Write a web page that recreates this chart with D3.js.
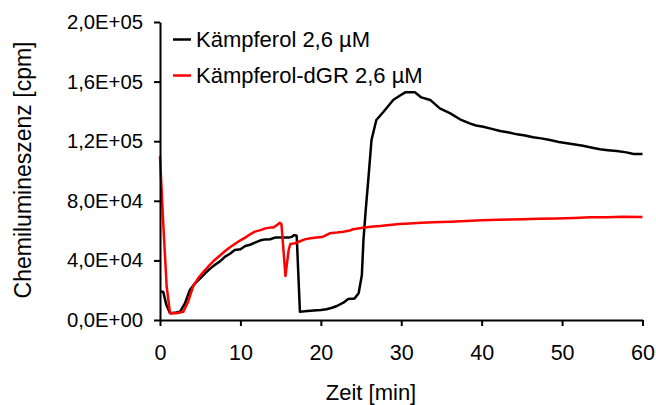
<!DOCTYPE html>
<html>
<head>
<meta charset="utf-8">
<script src="https://cdn.jsdelivr.net/npm/d3@7.9.0/dist/d3.min.js"></script>
<style>
  body { margin: 0; background: #fff; }
  svg { display: block; font-family: "Liberation Sans", Arial, sans-serif; }
</style>
</head>
<body>
<svg width="656" height="405"></svg>
<script>
// Kämpferol 2,6 µM (black)
const timeKaemp = [0, 0.4, 0.8, 1.25, 2.0, 2.5, 3.1, 3.7, 4.35, 5.0, 5.6, 6.2, 6.8, 7.5, 8.1, 8.7, 9.3, 10.0, 10.6, 11.2,
  11.8, 12.5, 13.1, 13.7, 14.3, 15.0, 15.6, 16.0, 16.4, 16.7, 17.0, 17.4, 18.0, 19.1, 20.0, 20.7, 21.4, 22.0, 22.8, 23.4,
  24.2, 24.7, 25.1, 25.3, 25.6, 25.9, 26.3, 26.9, 27.8, 29.0, 29.8, 30.5, 31.7, 32.5, 33.6, 34.8, 36.1, 37.3, 38.5, 39.3,
  40.2, 41.0, 42.3, 43.4, 44.4, 45.4, 46.4, 47.4, 48.5, 49.6, 50.6, 51.6, 52.6, 53.6, 54.7, 55.7, 56.8, 58.0, 58.9, 60];
const valKaemp = [19000, 19000, 10000, 4500, 5000, 5600, 11200, 20000, 24600, 28000, 31300, 34300, 36900, 39500, 42500, 44500, 47000, 47500, 49700, 50500,
  51900, 53500, 54100, 54200, 55300, 55300, 55300, 55300, 55800, 57000, 56500, 5600, 5800, 6300, 6700, 7200, 8200, 9400, 11600, 14100,
  14500, 17900, 30000, 53700, 75000, 94000, 120800, 134200, 139800, 147700, 150500, 152800, 152800, 149400, 147700, 142000, 138700, 134700, 132000, 130500,
  129700, 128600, 126800, 125800, 124600, 123800, 122600, 121900, 120800, 119500, 118600, 117800, 117000, 115800, 114600, 114000, 113400, 112500, 111400, 111400];

// Kämpferol-dGR 2,6 µM (red)
const timeDGR = [0, 0.4, 0.83, 1.25, 2.0, 2.9, 3.5, 4.1, 4.8, 5.6, 6.2, 6.8, 7.5, 8.1, 8.7, 9.3, 10.0, 10.6, 11.2, 11.8,
  12.5, 13.1, 13.7, 14.1, 14.6, 14.9, 15.1, 15.6, 16.0, 16.2, 16.8, 17.5, 18.0, 18.7, 19.5, 20.3, 21.1, 22.0, 22.8, 23.6,
  24.0, 25.0, 25.7, 26.5, 27.4, 28.5, 29.8, 31.0, 32.5, 34.0, 36.1, 38.0, 40.0, 42.1, 45.2, 47.0, 49.3, 51.5, 53.5, 55.5, 57.6, 60];
const valDGR = [110000, 65000, 22300, 4500, 4600, 5500, 12300, 22300, 28500, 33500, 37000, 40300, 43500, 46300, 48800, 51000, 53500, 55300, 57500, 59300,
  60300, 61500, 62000, 62000, 64000, 65300, 64500, 29500, 47000, 51000, 51500, 53000, 54100, 54800, 55400, 55900, 58200, 58700, 59300, 60000,
  60900, 61800, 62200, 62700, 63100, 63700, 64400, 64800, 65200, 65600, 66000, 66500, 66900, 67300, 67600, 67900, 68200, 68500, 68900, 69000, 69300, 69200];

const xTicks = [0, 10, 20, 30, 40, 50, 60];
const yTicks = [0, 40000, 80000, 120000, 160000, 200000];
const yTickLabels = ["0,0E+00", "4,0E+04", "8,0E+04", "1,2E+05", "1,6E+05", "2,0E+05"];

const seriesNames = ["Kämpferol 2,6 µM", "Kämpferol-dGR 2,6 µM"];
const seriesColors = ["#000000", "#ff0000"];

const svg = d3.select("svg");

const x = d3.scaleLinear().domain([0, 60]).range([160, 642.5]);
const y = d3.scaleLinear().domain([0, 200000]).range([320, 22]);

const line = d3.line()
  .x(d => x(d[0]))
  .y(d => y(d[1]));

const series = [
  d3.zip(timeKaemp, valKaemp),
  d3.zip(timeDGR, valDGR)
];

// black first, red on top
svg.selectAll(".series")
  .data(series)
  .join("path")
  .attr("class", "series")
  .attr("fill", "none")
  .attr("stroke", (d, i) => seriesColors[i])
  .attr("stroke-width", 2.5)
  .attr("stroke-linejoin", "round")
  .attr("d", line);

// axes
const xAxis = svg.append("g")
  .attr("transform", `translate(0,${y(0)})`)
  .call(d3.axisBottom(x).tickValues(xTicks).tickFormat(d3.format("d"))
    .tickSize(6).tickSizeOuter(0).tickPadding(19));

const yAxis = svg.append("g")
  .attr("transform", `translate(${x(0)},0)`)
  .call(d3.axisLeft(y).tickValues(yTicks).tickFormat((d, i) => yTickLabels[i])
    .tickSize(6).tickSizeOuter(0).tickPadding(11));

svg.selectAll(".domain, .tick line").attr("stroke", "#000").attr("stroke-width", 2);
xAxis.attr("font-family", null).selectAll("text").attr("font-size", "21.5px").attr("fill", "#000");
yAxis.attr("font-family", null).selectAll("text").attr("font-size", "20.3px").attr("fill", "#000");

// axis titles
svg.append("text")
  .attr("x", 371)
  .attr("y", 400)
  .attr("text-anchor", "middle")
  .attr("font-size", "22px")
  .text("Zeit [min]");

svg.append("text")
  .attr("transform", `translate(31,170) rotate(-90)`)
  .attr("text-anchor", "middle")
  .attr("font-size", "23px")
  .text("Chemilumineszenz [cpm]");

// legend
const legend = svg.append("g");
seriesNames.forEach((name, i) => {
  const ly = 39.5 + i * 36;
  legend.append("line")
    .attr("x1", 173).attr("x2", 191)
    .attr("y1", ly).attr("y2", ly)
    .attr("stroke", seriesColors[i])
    .attr("stroke-width", 2.5);
  legend.append("text")
    .attr("x", 196)
    .attr("y", ly + 7.5)
    .attr("font-size", "22px")
    .text(name);
});
</script>
</body>
</html>
